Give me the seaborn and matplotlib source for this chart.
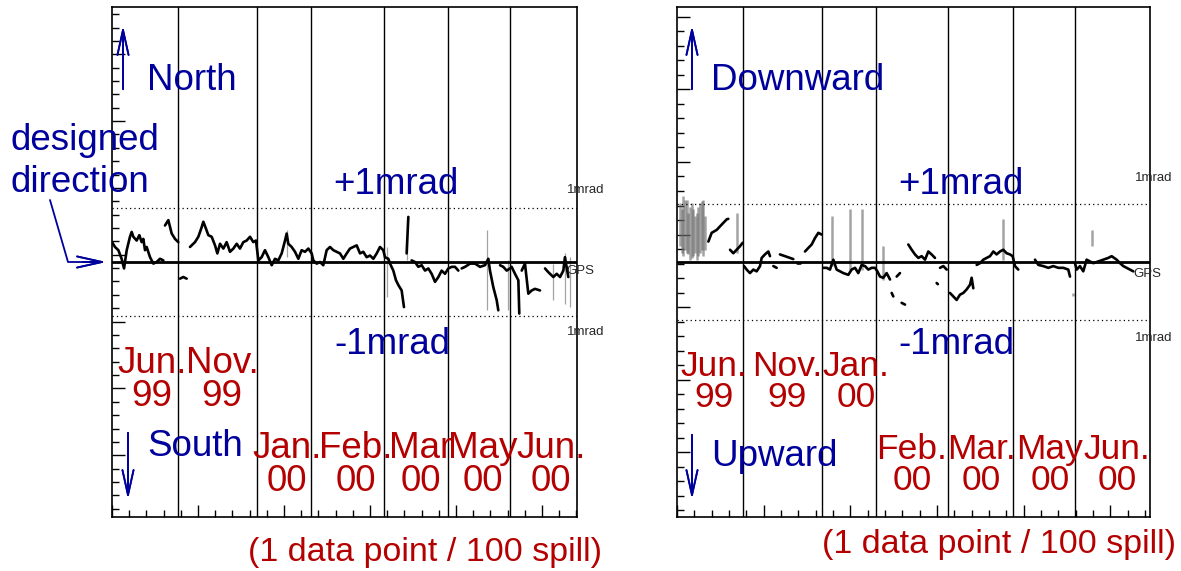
import numpy as np
import pandas as pd
import seaborn as sns
from matplotlib import pyplot as plt
from matplotlib.ticker import MultipleLocator, FixedLocator
from matplotlib.lines import Line2D

nan = np.nan

# month boundaries (data point number, 1 point = 100 spills)
left_bounds = [76.7, 168.6, 231.4, 316.3, 390.7, 462.8]
right_bounds = [76.1, 167.2, 229.5, 312.6, 387.5, 459.1]

# horizontal beam direction (mrad), NaN = gap in data
left_x = [0, 3.5, 7.4, 11.2, 14.0, 17.1, 20.9, 22.9, 24.8, 28.7, 31.8, 34.5, 36.4, 38.4, 40.3, 44.2, 48.1, 51.9, 55.8, 59.7, nan,
          61.6, 65.5, 69.4, 73.3, 77.1, nan,
          79.1, 82.9, 86.8, nan,
          90.7, 96.5, 100.4, 104.3, 106.2, 109.3, 112.0, 115.9, 119.8, 122.5, 125.6, 129.5, 133.3, 137.2, 141.1, 145.0, 148.8,
          152.7, 156.6, 160.5, 164.3, 167.4,
          170.2, 174.0, 177.9, 181.8, 185.7, 189.5, 193.4, 197.3, 201.2, 203.1, 205.0, 208.9, 212.8, 216.7, 220.5, 224.4, 228.3, 232.2,
          234.1, 238.0, 241.9, 245.7, 249.6, 253.5, 257.4, 261.2, 265.1, 269.0, 272.9, 276.7, 280.6, 284.5, 288.4, 292.2, 296.1,
          300.0, 303.9, 307.8, 311.6, 315.5,
          317.4, 321.3, 323.3, 327.1, 330.2, 333.0, 336.8, 339.5, nan,
          342.6, 344.6, nan,
          348.4, 352.3, 356.2, 360.1, 364.0, 367.8, 371.7, 375.6, 379.5, 383.3, 387.2, 391.1, 395.0, 398.8, 402.7, nan,
          406.6, 410.5, 416.3, 422.1, 427.9, 433.7, 437.6, 439.5, 443.4, 447.3, 449.2, nan,
          451.2, 455.0, 458.9, 462.8, 464.7, 468.6, 472.5, 473.6, nan,
          476.4, 480.2, 484.1, 488.0, 491.9, 497.7, nan,
          503.5, 507.4, 513.2, 517.1, 521.0, 524.8, 526.7, 530.6]
left_y = [0.37, 0.28, 0.22, 0.06, -0.12, 0.22, 0.47, 0.56, 0.47, 0.40, 0.50, 0.37, 0.43, 0.22, 0.28, 0.09, -0.03, 0.0, 0.06, 0.03, nan,
          0.68, 0.78, 0.53, 0.43, 0.37, nan,
          -0.31, -0.28, -0.31, nan,
          0.28, 0.37, 0.47, 0.65, 0.75, 0.62, 0.50, 0.47, 0.31, 0.16, 0.34, 0.25, 0.37, 0.19, 0.25, 0.34, 0.25,
          0.37, 0.40, 0.47, 0.37, 0.40,
          0.03, 0.09, 0.22, 0.09, -0.06, 0.06, 0.03, 0.16, 0.40, 0.53, 0.34, 0.28, 0.19, 0.06, 0.22, 0.19, 0.25, 0.16,
          0.03, -0.03, 0.0, -0.06, 0.22, 0.28, 0.22, 0.19, 0.16, 0.06, 0.16, 0.25, 0.28, 0.31, 0.16, 0.19, 0.09,
          0.12, 0.06, 0.16, 0.28, 0.22,
          0.09, 0.06, -0.03, -0.16, -0.34, -0.43, -0.53, -0.84, nan,
          0.16, 0.84, nan,
          0.03, 0.0, -0.09, -0.06, -0.16, -0.12, -0.22, -0.37, -0.28, -0.16, -0.22, -0.12, -0.09, -0.09, -0.16, nan,
          -0.12, -0.09, -0.03, -0.03, -0.09, -0.06, 0.06, -0.16, -0.47, -0.71, -0.90, nan,
          -0.06, -0.09, -0.16, -0.12, -0.09, -0.22, -0.34, -0.96, nan,
          -0.16, -0.03, -0.59, -0.53, -0.50, -0.53, nan,
          -0.12, -0.19, -0.28, -0.22, -0.28, -0.16, 0.09, -0.28]

# vertical beam direction (mrad)
right_x = [36.2, 40.0, 45.8, 51.5, 57.3, 59.2, nan,
           61.2, 65.0, 68.8, 72.7, 75.8, nan,
           77.3, 80.4, 84.2, 88.1, 91.9, 95.8, 97.7, 101.5, 105.4, 107.3, nan,
           111.2, 115.0, nan,
           118.8, 124.6, 130.4, 134.2, nan,
           138.1, 141.9, nan,
           147.7, 151.5, 155.4, 159.2, 163.1, 166.9, nan,
           168.8, 172.7, 176.5, 180.4, 184.2, 188.1, 191.9, 197.7, 201.5, 205.4, 209.2, 213.1, 216.9, 220.8, 224.6, 228.5,
           231.2, 234.2, 238.1, 241.9, 245.8, nan,
           247.7, 249.6, nan,
           253.5, 257.3, nan,
           259.2, 263.1, nan,
           266.9, 270.8, 274.6, 278.5, 282.3, 286.2, 290.0, 293.8, 297.7, nan,
           299.6, 301.0, nan,
           303.5, 307.3, 311.2, nan,
           315.0, 318.8, 322.7, 326.5, 330.4, 334.2, 338.1, 340.0, 341.9, nan,
           345.8, 349.6, 353.5, 357.3, 361.2, 365.0, 368.8, 372.7, 376.5, 380.4, 384.2, 387.3,
           390.0, 393.8, nan,
           413.1, 416.9, 422.7, 428.5, 434.2, 440.0, 445.8, 451.5, 453.5, nan,
           459.2, 461.2, 465.0, 468.8, 472.7, 476.5, 480.4, 486.2, 491.9, 497.7, 501.5, 507.3, 511.2, 515.0, 518.8,
           522.7, 526.5]
right_y = [0.35, 0.50, 0.55, 0.64, 0.73, 0.74, nan,
           0.21, 0.15, 0.21, 0.27, 0.33, nan,
           -0.07, -0.13, -0.19, -0.13, -0.16, -0.07, 0.07, 0.13, 0.18, 0.10, nan,
           -0.07, -0.10, nan,
           0.13, 0.10, 0.07, 0.05, nan,
           -0.02, -0.02, nan,
           0.18, 0.24, 0.30, 0.41, 0.50, 0.47, nan,
           -0.10, -0.10, -0.13, 0.04, -0.13, -0.16, -0.19, -0.22, -0.13, -0.10, -0.19, -0.05, -0.07, -0.13, -0.10, -0.10,
           -0.16, -0.25, -0.27, -0.19, -0.30, nan,
           -0.53, -0.59, nan,
           -0.25, -0.19, nan,
           -0.70, -0.73, nan,
           0.30, 0.21, 0.13, 0.07, 0.10, 0.04, 0.18, 0.13, 0.07, nan,
           -0.36, -0.38, nan,
           -0.10, -0.07, -0.13, nan,
           -0.53, -0.59, -0.65, -0.56, -0.53, -0.47, -0.39, -0.27, -0.45, nan,
           -0.05, -0.02, 0.04, 0.07, 0.10, 0.18, 0.13, 0.18, 0.21, 0.15, 0.13, 0.10,
           -0.07, -0.13, nan,
           0.04, -0.05, -0.07, -0.10, -0.07, -0.10, -0.10, -0.13, -0.25, nan,
           -0.02, -0.13, -0.07, -0.16, 0.04, 0.01, -0.02, 0.01, 0.04, 0.07, 0.10, 0.04, -0.02, -0.07, -0.10,
           -0.13, -0.16]

# scattered (noisy) data read as vertical spreads: x, low, high
left_spread_x = [203.1, 319.4, 342.6, 435.7, 460.9, 513.2, 526.7, 532.6]
left_spread_lo = [0.09, -0.65, 0.03, -0.90, -0.90, -0.71, -0.78, -0.84]
left_spread_hi = [0.59, 0.28, 0.81, 0.59, 0.03, -0.03, 0.16, 0.09]

right_spread_x = [3.5, 5.4, 7.3, 9.2, 11.2, 13.1, 15.0, 16.9, 18.8, 20.8, 22.7, 24.6, 26.5, 28.5, 30.4, 32.3,
                  68.8, 178.5, 199.6, 213.1, 238.1, 376.5, 478.5, 457.3]
right_spread_lo = [0.27, 0.15, 0.10, 0.21, 0.15, 0.13, 0.04, 0.07, 0.10, 0.15, 0.04, 0.10, 0.15, 0.21, 0.10, 0.21,
                   0.15, -0.07, -0.13, -0.13, -0.30, 0.04, 0.27, -0.59]
right_spread_hi = [1.01, 0.90, 1.13, 1.07, 1.07, 0.84, 0.95, 1.01, 0.90, 0.78, 0.84, 0.95, 1.01, 1.04, 1.07, 0.78,
                   0.84, 0.78, 0.90, 0.90, 0.27, 0.73, 0.55, -0.53]

left_months = ["Jun.\n99", "Nov.\n99", "Jan.\n00", "Feb.\n00", "Mar\n00", "May\n00", "Jun.\n00"]
right_months = ["Jun.\n99", "Nov.\n99", "Jan.\n00", "Feb.\n00", "Mar.\n00", "May\n00", "Jun.\n00"]

W, H = 1181, 571
BLUE = "#00009c"
RED = "#b40000"

sns.set_style("white")
plt.rcParams['font.family'] = ['Liberation Sans', 'DejaVu Sans']

fig = plt.figure(figsize=(W / 100, H / 100), dpi=100)
axL = fig.add_axes([112 / W, 1 - 517 / H, 465 / W, 510 / H])
axR = fig.add_axes([677 / W, 1 - 517 / H, 473 / W, 510 / H])


def to_frame(xs, ys):
    df = pd.DataFrame({"x": xs, "y": ys})
    df["seg"] = df["x"].isna().cumsum()
    return df.dropna()


def panel(ax, xs, ys, sx, slo, shi, bounds, xmax, ylim, ytop, ystep, band_lw):
    ax.vlines(sx, slo, shi, color="0.4", lw=band_lw, alpha=0.6)
    sns.lineplot(data=to_frame(xs, ys), x="x", y="y", units="seg", estimator=None,
                 sort=False, color="black", lw=1.9, ax=ax, legend=False)
    for b in bounds:
        ax.axvline(b, color="black", lw=1.0)
    ax.axhline(0, color="black", lw=2.0)
    ax.axhline(1, color="black", lw=0.9, ls=(0, (1, 2.5)))
    ax.axhline(-1, color="black", lw=0.9, ls=(0, (1, 2.5)))
    ax.set_xlim(0, xmax)
    ax.set_ylim(-ylim, ylim)
    ax.xaxis.set_major_locator(MultipleLocator(100))
    ax.xaxis.set_minor_locator(MultipleLocator(20))
    ax.yaxis.set_major_locator(FixedLocator(np.arange(ytop, -ylim, -ystep)))
    ax.yaxis.set_minor_locator(FixedLocator(np.arange(ytop + ystep, -ylim, -ystep / 5)))
    ax.tick_params(which="both", direction="in", left=True, bottom=True,
                   labelleft=False, labelbottom=False, color="black")
    ax.tick_params(which="major", length=9, width=1)
    ax.tick_params(which="minor", length=5, width=1)
    ax.set_xlabel("")
    ax.set_ylabel("")
    for s in ax.spines.values():
        s.set_color("black")
        s.set_linewidth(1.2)


panel(axL, left_x, left_y, left_spread_x, left_spread_lo, left_spread_hi,
      left_bounds, 540.7, 4.75, 3.87, 1.245, 0.9)
panel(axR, right_x, right_y, right_spread_x, right_spread_lo, right_spread_hi,
      right_bounds, 545.8, 4.37, 4.20, 1.243, 1.8)


def ftext(x, y, s, **kw):
    kw.setdefault("va", "center")
    fig.text(x / W, 1 - y / H, s, **kw)


def farrow(x0, y0, x1, y1):
    fig.add_artist(plt.annotate("", xy=(x1 / W, 1 - y1 / H), xytext=(x0 / W, 1 - y0 / H),
                                xycoords="figure fraction", textcoords="figure fraction",
                                arrowprops=dict(arrowstyle="->,head_length=1.8,head_width=0.4",
                                                color=BLUE, lw=1.3)))


big = 26.5
# left panel texts
ftext(147, 80, "North", color=BLUE, fontsize=big)
ftext(147, 447, "South", color=BLUE, fontsize=big)
ftext(10, 140, "designed", color=BLUE, fontsize=big)
ftext(10, 182, "direction", color=BLUE, fontsize=big)
ftext(333, 185, "+1mrad", color=BLUE, fontsize=big)
ftext(334, 345, "-1mrad", color=BLUE, fontsize=big)
ftext(567, 190, "1mrad", fontsize=9.5, color="0.15")
ftext(567, 332, "1mrad", fontsize=9.5, color="0.15")
ftext(566, 271, "GPS", fontsize=9.5, color="0.15")
farrow(123, 92, 123, 23)
farrow(128, 430, 128, 502)
fig.add_artist(Line2D([50 / W, 68 / W, 100 / W], [1 - 200 / H, 1 - 262 / H, 1 - 262 / H], color=BLUE, lw=1.3))
farrow(80, 262, 109, 262)

left_pos = [(152, 380), (222, 380), (287, 465), (356, 465), (421, 465), (483, 465), (551, 465)]
for (px, py), lab in zip(left_pos, left_months):
    ftext(px, py, lab, color=RED, fontsize=big, ha="center", ma="center", linespacing=0.95)
ftext(248, 552, "(1 data point / 100 spill)", color=RED, fontsize=24.5)

# right panel texts
ftext(711, 80, "Downward", color=BLUE, fontsize=big)
ftext(711, 457, "Upward", color=BLUE, fontsize=big)
ftext(898, 185, "+1mrad", color=BLUE, fontsize=big)
ftext(898, 345, "-1mrad", color=BLUE, fontsize=big)
ftext(1135, 178, "1mrad", fontsize=9.5, color="0.15")
ftext(1135, 338, "1mrad", fontsize=9.5, color="0.15")
ftext(1133, 274, "GPS", fontsize=9.5, color="0.15")
farrow(692, 92, 692, 23)
farrow(692, 432, 692, 502)

right_pos = [(714, 382), (787, 382), (856, 382), (912, 465), (981, 465), (1050, 465), (1117, 465)]
for (px, py), lab in zip(right_pos, right_months):
    ftext(px, py, lab, color=RED, fontsize=25.5, ha="center", ma="center", linespacing=0.95)
ftext(822, 545, "(1 data point / 100 spill)", color=RED, fontsize=24.5)

fig.savefig("out.png", dpi=100, facecolor="white")
